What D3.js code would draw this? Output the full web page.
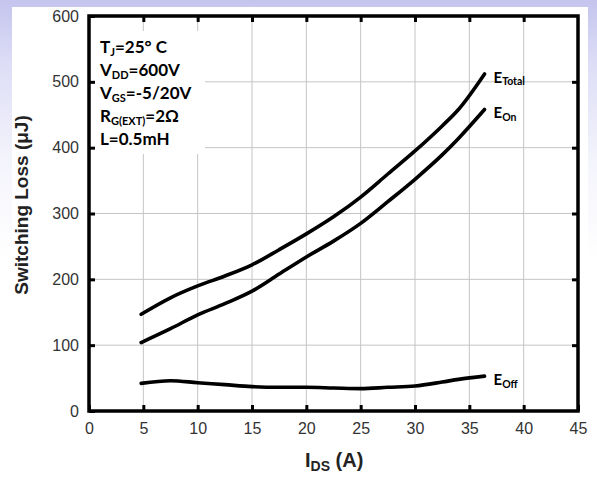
<!DOCTYPE html>
<html>
<head>
<meta charset="utf-8">
<script src="https://cdn.jsdelivr.net/npm/d3@7"></script>
<style>
  html, body { margin: 0; padding: 0; }
  body { width: 597px; height: 479px; overflow: hidden;
         background: linear-gradient(to bottom, #c4c4ee 0px, #dcdcf6 60px, #f4f4fc 160px, #ffffff 260px); }
  svg { display: block; }
</style>
</head>
<body>
<svg id="chart" width="597" height="479"></svg>
<script>
// Drain current (A) and switching energies (µJ)
const currentA = [4.8, 7.5, 10, 12.5, 15, 17.5, 20, 22.5, 25, 27.5, 30, 32.5, 34, 36.4];
const eTotal   = [147, 172, 190, 205, 222, 245, 269, 295, 325, 360, 395, 433, 458, 512];
const eOn      = [104, 125, 146, 163, 182, 208, 234, 258, 285, 318, 352, 389, 414, 458];
const eOff     = [42, 46, 43, 40, 37, 36, 36, 35, 34, 36, 38, 44, 48, 53];

const xTicks = [0, 5, 10, 15, 20, 25, 30, 35, 40, 45];
const yTicks = [0, 100, 200, 300, 400, 500, 600];

const conditions = [
  [["T", ""], ["J", "sub"], ["=25° C", ""]],
  [["V", ""], ["DD", "sub"], ["=600V", ""]],
  [["V", ""], ["GS", "sub"], ["=-5/20V", ""]],
  [["R", ""], ["G(EXT)", "sub"], ["=2Ω", ""]],
  [["L=0.5mH", ""]]
];

const series = [
  { name: "Total", values: eTotal },
  { name: "On", values: eOn },
  { name: "Off", values: eOff }
];

const svg = d3.select("#chart");

// page card
svg.append("rect").attr("x", 12).attr("y", 7).attr("width", 576).attr("height", 472).attr("fill", "#fff");

const x = d3.scaleLinear().domain([0, 45]).range([89, 578]);
const y = d3.scaleLinear().domain([0, 600]).range([411, 16]);

// grid
const grid = svg.append("g").attr("stroke", "#c4c4c4").attr("stroke-width", 1);
grid.selectAll("line.v").data(xTicks.slice(1, -1)).join("line")
  .attr("x1", d => x(d)).attr("x2", d => x(d)).attr("y1", y(600)).attr("y2", y(0));
grid.selectAll("line.h").data(yTicks.slice(1, -1)).join("line")
  .attr("x1", x(0)).attr("x2", x(45)).attr("y1", d => y(d)).attr("y2", d => y(d));

// conditions panel covers the grid in the upper-left corner
svg.append("rect").attr("x", x(0) + 2).attr("y", 31).attr("width", 114).attr("height", 123).attr("fill", "#fff");

// axes with inward ticks
const tickStyle = g => {
  g.select(".domain").remove();
  g.selectAll(".tick line").attr("stroke", "#000").attr("stroke-width", 3);
  g.selectAll(".tick text").attr("fill", "#333").style("font", "16px Arial, 'Liberation Sans', sans-serif");
};
svg.append("g").attr("transform", `translate(0,${y(0)})`)
  .call(d3.axisBottom(x).tickValues(xTicks).tickSize(-6).tickPadding(12).tickFormat(d3.format("d")))
  .call(tickStyle)
  .call(g => g.selectAll(".tick text").attr("y", 12));
svg.append("g").attr("transform", `translate(0,${y(600)})`)
  .call(d3.axisTop(x).tickValues(xTicks.slice(1, -1)).tickSize(-6).tickFormat(""))
  .call(tickStyle);
svg.append("g").attr("transform", `translate(${x(0)},0)`)
  .call(d3.axisLeft(y).tickValues(yTicks).tickSize(-6).tickPadding(10).tickFormat(d3.format("d")))
  .call(tickStyle)
  .call(g => g.selectAll(".tick text").attr("x", -10));
svg.append("g").attr("transform", `translate(${x(45)},0)`)
  .call(d3.axisRight(y).tickValues(yTicks.slice(1, -1)).tickSize(-6).tickFormat(""))
  .call(tickStyle);

// frame
svg.append("rect").attr("x", x(0)).attr("y", y(600))
  .attr("width", x(45) - x(0)).attr("height", y(0) - y(600))
  .attr("fill", "none").attr("stroke", "#000").attr("stroke-width", 3.5);

// curves
const line = d3.line().x(d => x(d[0])).y(d => y(d[1])).curve(d3.curveMonotoneX);
svg.append("g").selectAll("path").data(series).join("path")
  .attr("d", s => line(currentA.map((c, i) => [c, s.values[i]])))
  .attr("fill", "none").attr("stroke", "#000").attr("stroke-width", 3.6)
  .attr("stroke-linecap", "round").attr("stroke-linejoin", "round");

// curve labels
const lastI = currentA.length - 1;
const labelFont = "Lato, 'Open Sans', sans-serif";
series.forEach(s => {
  const t = svg.append("text")
    .attr("x", x(currentA[lastI]) + 9)
    .attr("y", y(s.values[lastI]) + 9)
    .attr("font-family", labelFont).attr("font-weight", "bold").attr("fill", "#000");
  t.append("tspan").attr("font-size", 15).text("E");
  t.append("tspan").attr("font-size", 10.5).attr("dy", 2.5).text(s.name);
});

// conditions text
const cond = svg.append("g").attr("font-family", labelFont).attr("font-weight", "bold").attr("fill", "#000");
conditions.forEach((parts, i) => {
  const t = cond.append("text").attr("x", 100).attr("y", 53 + i * 23);
  parts.forEach(([txt, kind]) => {
    if (kind === "sub") {
      t.append("tspan").attr("font-size", 11).attr("dy", 3).text(txt);
    } else {
      const ts = t.append("tspan").attr("font-size", 17).text(txt);
      if (parts.length > 1 && txt.startsWith("=")) ts.attr("dy", -3);
    }
  });
});

// axis titles
const titleFont = "Arial, 'Liberation Sans', sans-serif";
svg.append("text")
  .attr("transform", `translate(28,205) rotate(-90)`)
  .attr("text-anchor", "middle").attr("font-family", titleFont)
  .attr("font-weight", "bold").attr("font-size", 19).attr("fill", "#222")
  .text("Switching Loss (μJ)");

const xt = svg.append("text").attr("x", 305).attr("y", 467)
  .attr("font-family", titleFont).attr("font-weight", "bold").attr("fill", "#222");
xt.append("tspan").attr("font-size", 20).text("I");
xt.append("tspan").attr("font-size", 14).attr("dy", 4).text("DS");
xt.append("tspan").attr("font-size", 20).attr("dy", -4).text(" (A)");
</script>
</body>
</html>
